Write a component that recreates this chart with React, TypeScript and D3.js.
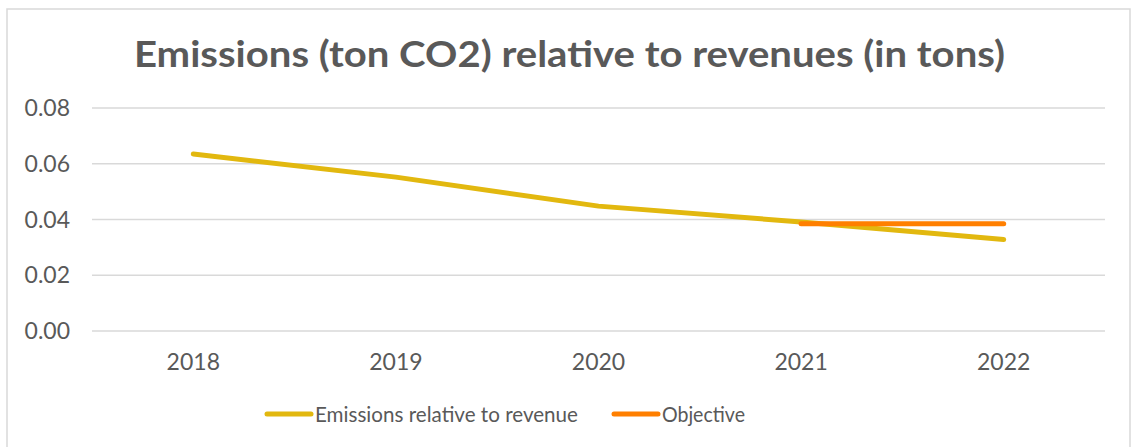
import React from "react";
import * as d3 from "d3";

const years = ["2018", "2019", "2020", "2021", "2022"];
const emissions = [0.0635, 0.0552, 0.0448, 0.0391, 0.0328];
const objectiveYears = ["2021", "2022"];
const objective = [0.0385, 0.0385];
const yTicks = [0, 0.02, 0.04, 0.06, 0.08];
const title = "Emissions (ton CO2) relative to revenues (in tons)";
const seriesNames = ["Emissions relative to revenue", "Objective"];
const colors = ["#E2B80F", "#FF7F00"];

const W = 1133, H = 447;
const FONT = "Lato, 'Open Sans', sans-serif";

export default function App() {
  const x = d3.scaleBand().domain(years).range([92, 1105]);
  const y = d3.scaleLinear().domain([0, 0.08]).range([331, 108]);
  const cx = (d: string) => (x(d) as number) + x.bandwidth() / 2;
  const line = d3.line<[string, number]>().x(d => cx(d[0])).y(d => y(d[1]));
  const emData = years.map((yr, i) => [yr, emissions[i]] as [string, number]);
  const objData = objectiveYears.map((yr, i) => [yr, objective[i]] as [string, number]);
  const legend = [
    { x1: 267, x2: 311, tx: 315, w: 263, name: seriesNames[0], color: colors[0] },
    { x1: 614, x2: 658, tx: 662, w: 83, name: seriesNames[1], color: colors[1] },
  ];
  return (
    <svg width={W} height={H} style={{ position: "absolute", left: 0, top: 0 }}>
      <rect x={0} y={0} width={W} height={H} fill="#fff" />
      <rect x={7} y={9} width={1123} height={460} fill="#fff" stroke="#d9d9d9" strokeWidth={1.5} />
      <text x={134} y={67} textLength={871} lengthAdjust="spacingAndGlyphs" fontFamily={FONT} fontWeight="bold" fontSize={36} fill="#595959">{title}</text>
      {yTicks.map(t => (
        <g key={t}>
          <line x1={92} x2={1105} y1={y(t)} y2={y(t)} stroke="#d9d9d9" strokeWidth={1.5} />
          <text x={70} y={y(t) + 8} textAnchor="end" fontFamily={FONT} fontSize={23} fill="#595959">{t.toFixed(2)}</text>
        </g>
      ))}
      {years.map(yr => (
        <text key={yr} x={cx(yr)} y={370} textAnchor="middle" fontFamily={FONT} fontSize={23} fill="#595959">{yr}</text>
      ))}
      <path d={line(emData) as string} fill="none" stroke={colors[0]} strokeWidth={5} strokeLinecap="round" strokeLinejoin="round" />
      <path d={line(objData) as string} fill="none" stroke={colors[1]} strokeWidth={5} strokeLinecap="round" strokeLinejoin="round" />
      {legend.map(l => (
        <g key={l.name}>
          <line x1={l.x1} x2={l.x2} y1={414} y2={414} stroke={l.color} strokeWidth={5} strokeLinecap="round" />
          <text x={l.tx} y={422} textLength={l.w} lengthAdjust="spacingAndGlyphs" fontFamily={FONT} fontSize={22} fill="#595959">{l.name}</text>
        </g>
      ))}
    </svg>
  );
}
